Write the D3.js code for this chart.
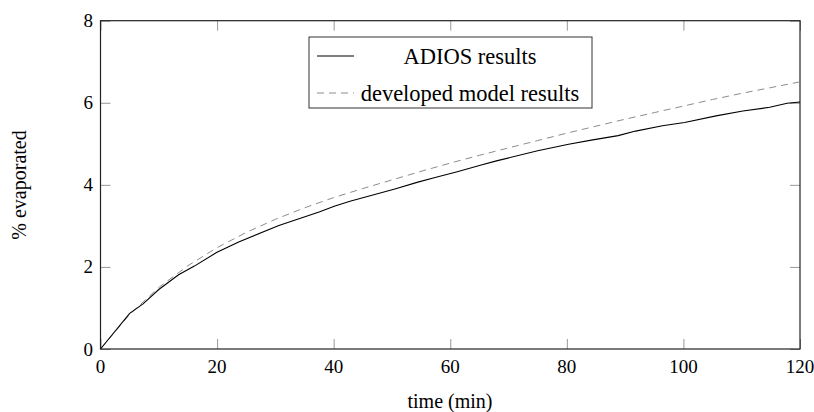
<!DOCTYPE html>
<html>
<head>
<meta charset="utf-8">
<script src="https://cdn.jsdelivr.net/npm/d3@7"></script>
<style>
  html, body { margin: 0; padding: 0; background: #fff; }
  svg { display: block; }
</style>
</head>
<body>
<svg id="chart" width="814" height="412"></svg>
<script>
// ADIOS evaporation curve (time in minutes, percent evaporated)
const adiosTime = [0, 5, 7.3, 10, 13.4, 16.1, 19.9, 23.7, 30.6, 37.5, 40.1, 42.8, 50.5, 54.3, 57.4, 61.2, 65, 68.1, 75, 80.3, 84.2, 88.8, 91.8, 96.4, 100.2, 105.6, 110.2, 114.8, 117.8, 120];
const adiosPct  = [0, 0.87, 1.10, 1.45, 1.81, 2.02, 2.35, 2.61, 3.01, 3.34, 3.48, 3.60, 3.90, 4.06, 4.18, 4.32, 4.47, 4.59, 4.83, 4.99, 5.09, 5.20, 5.31, 5.44, 5.52, 5.68, 5.80, 5.89, 5.99, 6.02];

// Developed model curve
const modelTime = [0, 5, 10, 15, 20, 25, 30, 35, 40, 45, 50, 55, 60, 65, 70, 75, 80, 85, 90, 95, 100, 105, 110, 115, 120];
const modelPct  = [0, 0.84, 1.50, 2.03, 2.47, 2.84, 3.16, 3.44, 3.69, 3.91, 4.12, 4.33, 4.53, 4.72, 4.90, 5.08, 5.26, 5.43, 5.60, 5.76, 5.92, 6.08, 6.23, 6.37, 6.51];

const xTicks = [0, 20, 40, 60, 80, 100, 120];
const yTicks = [0, 2, 4, 6, 8];
const legendLabels = ["ADIOS results", "developed model results"];

const serif = "'Liberation Serif', 'DejaVu Serif', serif";

const svg = d3.select("#chart").attr("font-family", serif);
const plotLeft = 100.5, plotRight = 800, plotTop = 20.7, plotBottom = 349;

const x = d3.scaleLinear().domain([0, 120]).range([plotLeft, plotRight]);
const y = d3.scaleLinear().domain([0, 8]).range([plotBottom, plotTop]);

const tickLen = 10;
const tickColor = "#999";

// Inward ticks on all four sides
const axes = [
  { axis: d3.axisBottom(x), pos: `translate(0,${plotBottom})`, isX: true },
  { axis: d3.axisTop(x), pos: `translate(0,${plotTop})`, isX: true },
  { axis: d3.axisLeft(y), pos: `translate(${plotLeft},0)`, isX: false },
  { axis: d3.axisRight(y), pos: `translate(${plotRight},0)`, isX: false }
];
axes.forEach(a => {
  const g = svg.append("g").attr("transform", a.pos)
    .call(a.axis.tickValues(a.isX ? xTicks : yTicks).tickSizeInner(-tickLen).tickSizeOuter(0).tickFormat(""));
  g.select(".domain").remove();
  g.selectAll(".tick line").attr("stroke", tickColor).attr("stroke-width", 1);
});

// Tick labels
svg.append("g").selectAll("text").data(xTicks).join("text")
  .attr("x", d => x(d)).attr("y", 373)
  .attr("text-anchor", "middle").attr("font-size", 19)
  .attr("font-family", serif)
  .text(d => d);
svg.append("g").selectAll("text").data(yTicks).join("text")
  .attr("x", 93).attr("y", d => y(d) + 6.5)
  .attr("text-anchor", "end").attr("font-size", 19)
  .attr("font-family", serif)
  .text(d => d);

// Frame
svg.append("rect")
  .attr("x", plotLeft).attr("y", plotTop)
  .attr("width", plotRight - plotLeft).attr("height", plotBottom - plotTop)
  .attr("fill", "none").attr("stroke", "#222").attr("stroke-width", 1.2);

// Curves
const line = d3.line().x(d => x(d[0])).y(d => y(d[1]));
svg.append("path")
  .datum(modelTime.map((t, i) => [t, modelPct[i]]))
  .attr("d", line).attr("fill", "none")
  .attr("stroke", "#8c8c8c").attr("stroke-width", 1).attr("stroke-dasharray", "7,5");
svg.append("path")
  .datum(adiosTime.map((t, i) => [t, adiosPct[i]]))
  .attr("d", line).attr("fill", "none")
  .attr("stroke", "#000").attr("stroke-width", 1.1);

// Legend
const lg = svg.append("g");
lg.append("rect").attr("x", 309).attr("y", 37).attr("width", 283).attr("height", 71)
  .attr("fill", "#fff").attr("stroke", "#333").attr("stroke-width", 1);
const rows = [56, 93];
lg.append("line").attr("x1", 317).attr("x2", 354).attr("y1", rows[0]).attr("y2", rows[0])
  .attr("stroke", "#000").attr("stroke-width", 1.1);
lg.append("line").attr("x1", 317).attr("x2", 354).attr("y1", rows[1]).attr("y2", rows[1])
  .attr("stroke", "#8c8c8c").attr("stroke-width", 1).attr("stroke-dasharray", "7,5");
lg.selectAll("text.lab").data(legendLabels).join("text")
  .attr("class", "lab")
  .attr("x", 470).attr("y", (d, i) => rows[i] + 7.5)
  .attr("text-anchor", "middle").attr("font-size", 22.5)
  .attr("font-family", serif)
  .text(d => d);

// Axis titles
svg.append("text").attr("x", 450).attr("y", 408)
  .attr("text-anchor", "middle").attr("font-size", 20)
  .attr("font-family", serif)
  .text("time (min)");
svg.append("text")
  .attr("transform", "translate(26,185) rotate(-90)")
  .attr("text-anchor", "middle").attr("font-size", 20)
  .attr("font-family", serif)
  .text("% evaporated");
</script>
</body>
</html>
